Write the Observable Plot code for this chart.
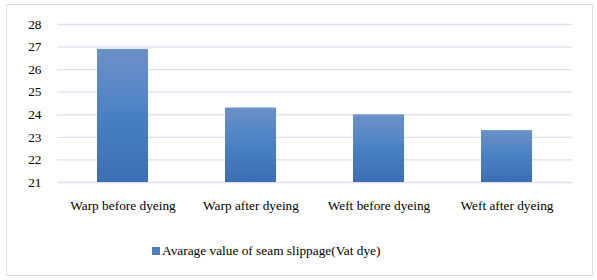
<!DOCTYPE html>
<html><head><meta charset="utf-8">
<script src="https://cdn.jsdelivr.net/npm/d3@7"></script>
<script src="https://cdn.jsdelivr.net/npm/@observablehq/plot@0.6"></script>
<style>
body{margin:0;background:#fff;font-family:'Liberation Serif',serif;}
#wrap{position:relative;width:597px;height:280px;}
#frame{position:absolute;left:6px;top:4px;width:587px;height:272px;border:1px solid #d6e1ee;box-sizing:border-box;}
#chart{position:absolute;left:0;top:0;}
#legend{position:absolute;left:152px;top:243px;font-size:13.33px;color:#000;display:flex;align-items:center;white-space:nowrap;font-family:'Liberation Serif',serif;}
#legend span.sw{display:inline-block;width:8px;height:8px;background:#4a7ebb;margin-right:2px;}
</style></head>
<body><div id="wrap"><div id="frame"></div><div id="chart"></div>
<div id="legend"><span class="sw"></span><span>Avarage value of seam slippage(Vat dye)</span></div></div>
<script>
const categories = ["Warp before dyeing","Warp after dyeing","Weft before dyeing","Weft after dyeing"];
const values = [26.9, 24.3, 24.0, 23.3];
const yTicks = [21,22,23,24,25,26,27,28];
const data = categories.map((c,i)=>({cat:c, v:values[i]}));

const chart = Plot.plot({
  width: 597, height: 225,
  marginLeft: 57, marginRight: 25, marginTop: 24, marginBottom: 43,
  style: {fontFamily: "'Liberation Serif',serif", fontSize: "13.33px", color: "#000", background: "transparent"},
  x: {domain: categories, paddingInner: 0.6, paddingOuter: 0.3, label: null, tickSize: 0, tickPadding: 18},
  y: {domain: [21, 28], ticks: yTicks, label: null, tickSize: 0, tickPadding: 16, tickFormat: d3.format("d")},
  marks: [
    Plot.ruleY(yTicks, {stroke: "#d9e2ee", strokeWidth: 1.3}),
    Plot.barY(data, {x: "cat", y1: 21, y2: "v", fill: "url(#barGrad)"})
  ]
});
const svg = d3.select(chart);
svg.selectAll("text").attr("font-family", "Liberation Serif");
const defs = svg.insert("defs", ":first-child");
const g = defs.append("linearGradient").attr("id","barGrad").attr("x1",0).attr("y1",0).attr("x2",0).attr("y2",1);
g.append("stop").attr("offset","0%").attr("stop-color","#6b91c6");
g.append("stop").attr("offset","50%").attr("stop-color","#4a81c4");
g.append("stop").attr("offset","100%").attr("stop-color","#3c6eb0");
document.getElementById("chart").appendChild(chart);
</script></body></html>
